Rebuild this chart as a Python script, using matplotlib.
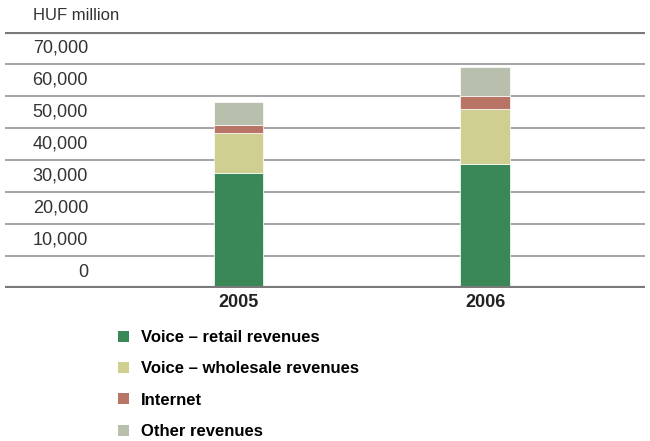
import matplotlib.pyplot as plt
from matplotlib.patches import Patch
from matplotlib.transforms import blended_transform_factory

plt.rcParams['font.family'] = ['Liberation Sans Narrow', 'Liberation Sans', 'DejaVu Sans']

# Revenues by year, HUF million
years = ["2005", "2006"]
series = ["Voice – retail revenues", "Voice – wholesale revenues", "Internet", "Other revenues"]
retail = [35800, 38700]
wholesale = [12400, 17200]
internet = [2600, 3900]
other = [7100, 9100]
colors = ["#3a8758", "#cfcf91", "#b87565", "#b9bfad"]
ticks = [0, 10000, 20000, 30000, 40000, 50000, 60000, 70000]

fig = plt.figure(figsize=(6.5, 4.41), dpi=100)
ax = fig.add_axes([5 / 650, 0.348, 640 / 650, 0.58])

x = [0, 1]
bottom = [0, 0]
for vals, col in zip([retail, wholesale, internet, other], colors):
    ax.bar(x, vals, width=0.2, bottom=bottom, color=col, edgecolor="white",
           linewidth=0.5, zorder=3)
    bottom = [b + v for b, v in zip(bottom, vals)]

ax.set_xlim(-0.95, 1.65)
ax.set_ylim(0, 80000)

# horizontal rules, heavier at top and bottom
for t in ticks[1:]:
    ax.axhline(t, color="#959595", linewidth=1.2, zorder=1)
ax.axhline(0, color="#7a7a7a", linewidth=3, zorder=4)
ax.axhline(80000, color="#7a7a7a", linewidth=3, zorder=4)

ax.set_xticks([])
ax.set_yticks([])
for s in ax.spines.values():
    s.set_visible(False)

trans = blended_transform_factory(fig.transFigure, ax.transData)
for t in ticks:
    ax.text(88 / 650, t + 4800, f"{t:,}", transform=trans, ha="right", va="center",
            fontsize=13, color="#333333")
ax.text(33 / 650, 80000 + 5000, "HUF million", transform=trans, ha="left",
        va="center", fontsize=12, color="#333333", clip_on=False)

for xi, yr in zip(x, years):
    ax.text(xi, -2000, yr, ha="center", va="top", fontsize=13, fontweight="bold",
            color="#222222")

handles = [Patch(facecolor=c, edgecolor="none") for c in colors]
fig.legend(handles, series, loc="upper left", bbox_to_anchor=(103 / 650, 1 - 315 / 441),
           frameon=False, prop={"weight": "bold", "size": 12},
           handlelength=0.65, handleheight=0.65, handletextpad=0.72, labelspacing=0.98)

fig.savefig("out.png", dpi=100)
